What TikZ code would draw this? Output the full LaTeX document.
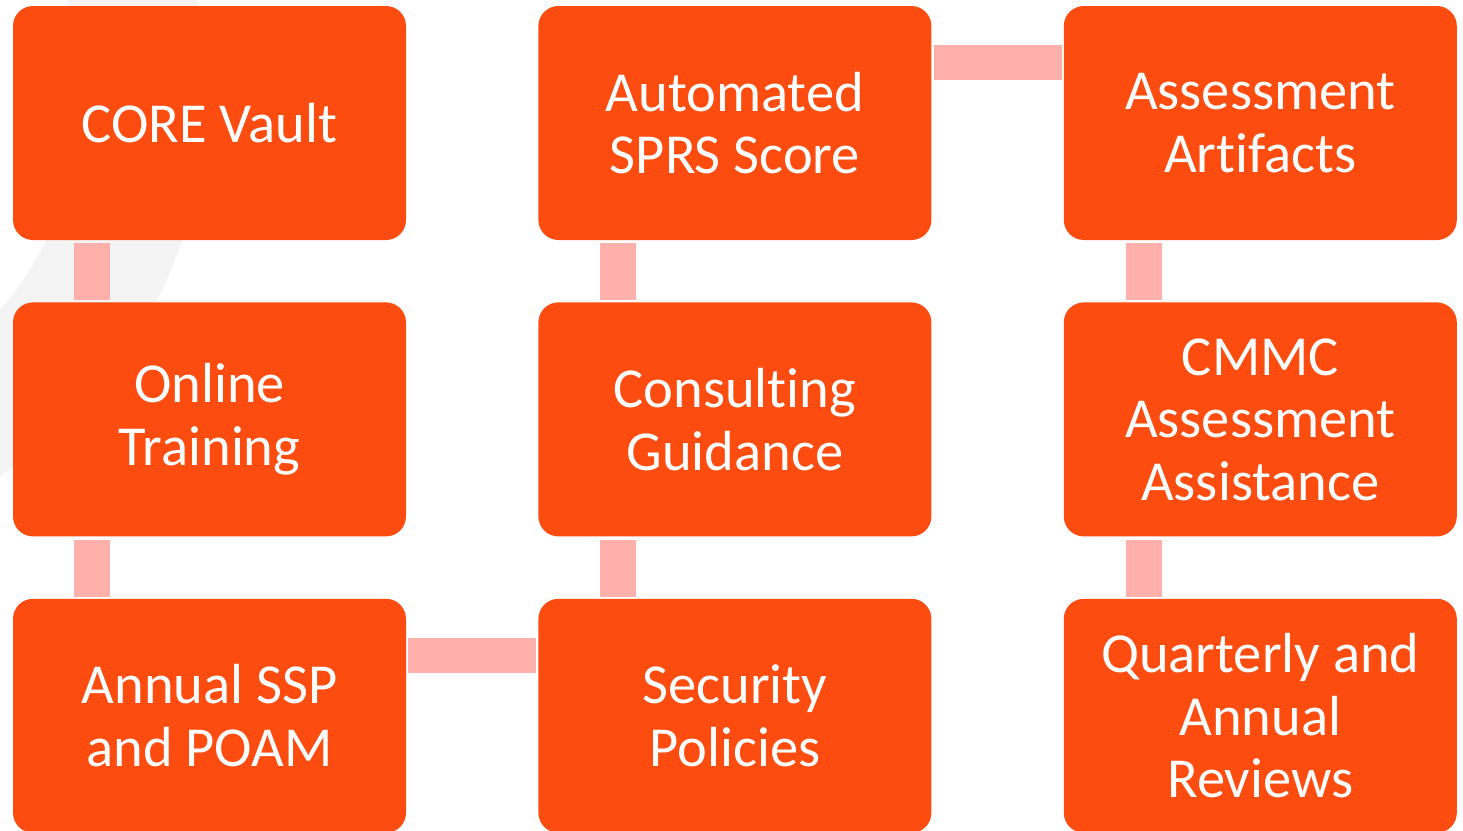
\documentclass[tikz,border=0pt]{standalone}
\usepackage{fontspec}
\setmainfont{Carlito}[Ligatures=NoCommon]
\usepackage{xcolor}
\usetikzlibrary{positioning}

\definecolor{boxorange}{HTML}{FD4C0F}
\definecolor{linkpink}{HTML}{FFB0AA}
\definecolor{ringgray}{HTML}{F4F4F4}

\begin{document}
\begin{tikzpicture}[x=1pt,y=-1pt,
  stage/.style={fill=boxorange,rounded corners=20pt,text=white,align=center,
    minimum width=393pt,minimum height=234pt,inner sep=0pt,
    font=\fontsize{56.5}{62.5}\selectfont},
  link/.style={draw=linkpink,line width=36pt},
  node distance=62pt and 132pt]
\useasboundingbox (0,0) rectangle (1463,830);
% faint ring in the background
\fill[ringgray,even odd rule] (-253.5,92.6) circle[radius=460pt] (-253.5,92.6) circle[radius=334pt];
% first column, top to bottom
\node[stage] (vault) at (209.5,123) {CORE Vault};
\node[stage,below=of vault] (training) {Online\\Training};
\node[stage,below=of training] (ssp) {Annual SSP\\and POAM};
% second column, bottom to top
\node[stage,right=of ssp] (policies) {Security\\Policies};
\node[stage,above=of policies] (guidance) {Consulting\\Guidance};
\node[stage,above=of guidance] (sprs) {Automated\\SPRS Score};
% third column, top to bottom
\node[stage,right=of sprs] (artifacts) {Assessment\\Artifacts};
\node[stage,below=of artifacts] (cmmc) {CMMC\\Assessment\\Assistance};
\node[stage,below=of cmmc] (reviews) {Quarterly and\\Annual\\Reviews};
% connectors
\draw[link] ([xshift=79.5pt,yshift=-3pt]vault.south west) -- ([xshift=79.5pt,yshift=2pt]training.north west);
\draw[link] ([xshift=79.5pt,yshift=-3pt]training.south west) -- ([xshift=79.5pt,yshift=2pt]ssp.north west);
\draw[link,line width=35pt] ([xshift=2pt,yshift=-57pt]ssp.north east) -- ([xshift=-2pt,yshift=-57pt]policies.north west);
\draw[link] ([xshift=80pt,yshift=2pt]policies.north west) -- ([xshift=80pt,yshift=-3pt]guidance.south west);
\draw[link] ([xshift=80pt,yshift=2pt]guidance.north west) -- ([xshift=80pt,yshift=-3pt]sprs.south west);
\draw[link,line width=35pt] ([xshift=2pt,yshift=-57pt]sprs.north east) -- ([xshift=-2pt,yshift=-57pt]artifacts.north west);
\draw[link] ([xshift=80pt,yshift=-3pt]artifacts.south west) -- ([xshift=80pt,yshift=2pt]cmmc.north west);
\draw[link] ([xshift=80pt,yshift=-3pt]cmmc.south west) -- ([xshift=80pt,yshift=2pt]reviews.north west);
\end{tikzpicture}
\end{document}
